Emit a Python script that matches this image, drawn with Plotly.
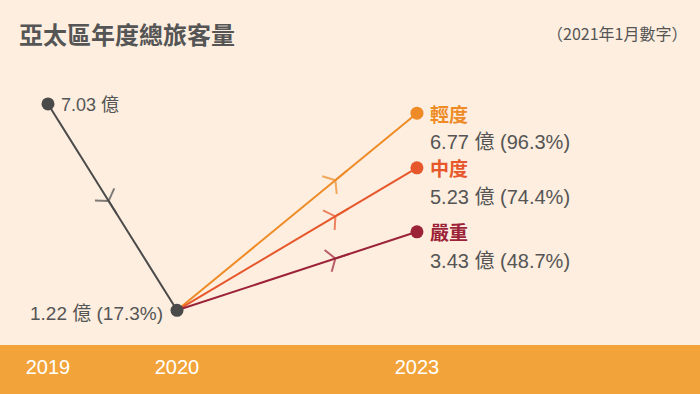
import plotly.graph_objects as go

# ---- data ----
years = ["2019", "2020", "2023"]
start_value = 7.03
trough_value = 1.22
trough_share = "17.3%"
scenarios = ["輕度", "中度", "嚴重"]
scenario_values = [6.77, 5.23, 3.43]
scenario_shares = ["96.3%", "74.4%", "48.7%"]

# ---- layout constants ----
x_pos = [0, 1, 2.86]
scenario_colors = ["#EE8B26", "#E6572B", "#9C2237"]
gray = "#4A4A4A"
text_gray = "#555555"
bg = "#FDEEDF"
band = "#F2A43B"
font_fam = "Liberation Sans, Noto Sans CJK TC, sans-serif"
cjk_fam = "Noto Sans CJK TC, sans-serif"


def along(x0, y0, x1, y1, f):
    return x0 + (x1 - x0) * f, y0 + (y1 - y0) * f


fig = go.Figure()


def segment(x0, y0, x1, y1, col, frac):
    fig.add_trace(go.Scatter(
        x=[x0, x1], y=[y0, y1], mode="lines",
        line=dict(color=col, width=2),
        hoverinfo="skip", showlegend=False,
    ))
    mx, my = along(x0, y0, x1, y1, frac)
    fig.add_trace(go.Scatter(
        x=[x0, mx], y=[y0, my], mode="markers",
        marker=dict(symbol="y-up", size=[0, 19], color=col,
                    angleref="previous", line=dict(color=col, width=2)),
        hoverinfo="skip", showlegend=False,
    ))


for val, col in zip(scenario_values, scenario_colors):
    segment(x_pos[1], trough_value, x_pos[2], val, col, 0.66)
segment(x_pos[0], start_value, x_pos[1], trough_value, gray, 0.47)

# dots
fig.add_trace(go.Scatter(
    x=[x_pos[2]] * len(scenario_values), y=scenario_values, mode="markers",
    marker=dict(symbol="circle", size=13, color=scenario_colors, opacity=1,
                line=dict(width=0)),
    hoverinfo="skip", showlegend=False,
))
fig.add_trace(go.Scatter(
    x=[x_pos[0], x_pos[1]], y=[start_value, trough_value], mode="markers",
    marker=dict(symbol="circle", size=13, color=gray, opacity=1,
                line=dict(width=0)),
    hoverinfo="skip", showlegend=False,
))

ann = []
ann.append(dict(x=x_pos[0], y=start_value, xref="x", yref="y",
                text=f"{start_value:.2f} 億", showarrow=False,
                xanchor="left", yanchor="middle", xshift=11, yshift=-1,
                font=dict(size=18, color=text_gray, family=font_fam)))
ann.append(dict(x=x_pos[1], y=trough_value, xref="x", yref="y",
                text=f"{trough_value:.2f} 億 ({trough_share})", showarrow=False,
                xanchor="right", yanchor="middle", xshift=-12, yshift=-3,
                font=dict(size=19, color=text_gray, family=font_fam)))
for name, val, share, col in zip(scenarios, scenario_values, scenario_shares, scenario_colors):
    ann.append(dict(x=x_pos[2], y=val, xref="x", yref="y",
                    text=f"<b>{name}</b>", showarrow=False,
                    xanchor="left", yanchor="middle", xshift=11,
                    font=dict(size=19, color=col, family=cjk_fam)))
    ann.append(dict(x=x_pos[2], y=val, xref="x", yref="y",
                    text=f"{val:.2f} 億 ({share})", showarrow=False,
                    xanchor="left", yanchor="middle", xshift=11, yshift=-29,
                    font=dict(size=20, color=text_gray, family=font_fam)))

ann.append(dict(x=17 / 700, y=1 - 33 / 345, xref="paper", yref="paper",
                text="<b>亞太區年度總旅客量</b>", showarrow=False,
                xanchor="left", yanchor="middle",
                font=dict(size=24, color=text_gray, family=cjk_fam)))
ann.append(dict(x=689 / 700, y=1 - 33 / 345, xref="paper", yref="paper",
                text="（2021年1月數字）", showarrow=False,
                xanchor="right", yanchor="middle",
                font=dict(size=16, color=text_gray, family=cjk_fam)))

fig.update_layout(
    width=700, height=394,
    margin=dict(l=0, r=0, t=0, b=49),
    paper_bgcolor=band, plot_bgcolor=bg,
    annotations=ann,
    xaxis=dict(range=[-0.372, 5.054], tickvals=x_pos, ticktext=years,
               showgrid=False, zeroline=False, showline=False, ticks="",
               ticklabelstandoff=8,
               tickfont=dict(size=20, color="white", family=font_fam),
               fixedrange=True),
    yaxis=dict(range=[0.243, 9.956], visible=False, fixedrange=True),
)

fig.write_html("out.html", config={"displayModeBar": False},
               post_script="document.body.style.margin='0';document.body.style.overflow='hidden';")
